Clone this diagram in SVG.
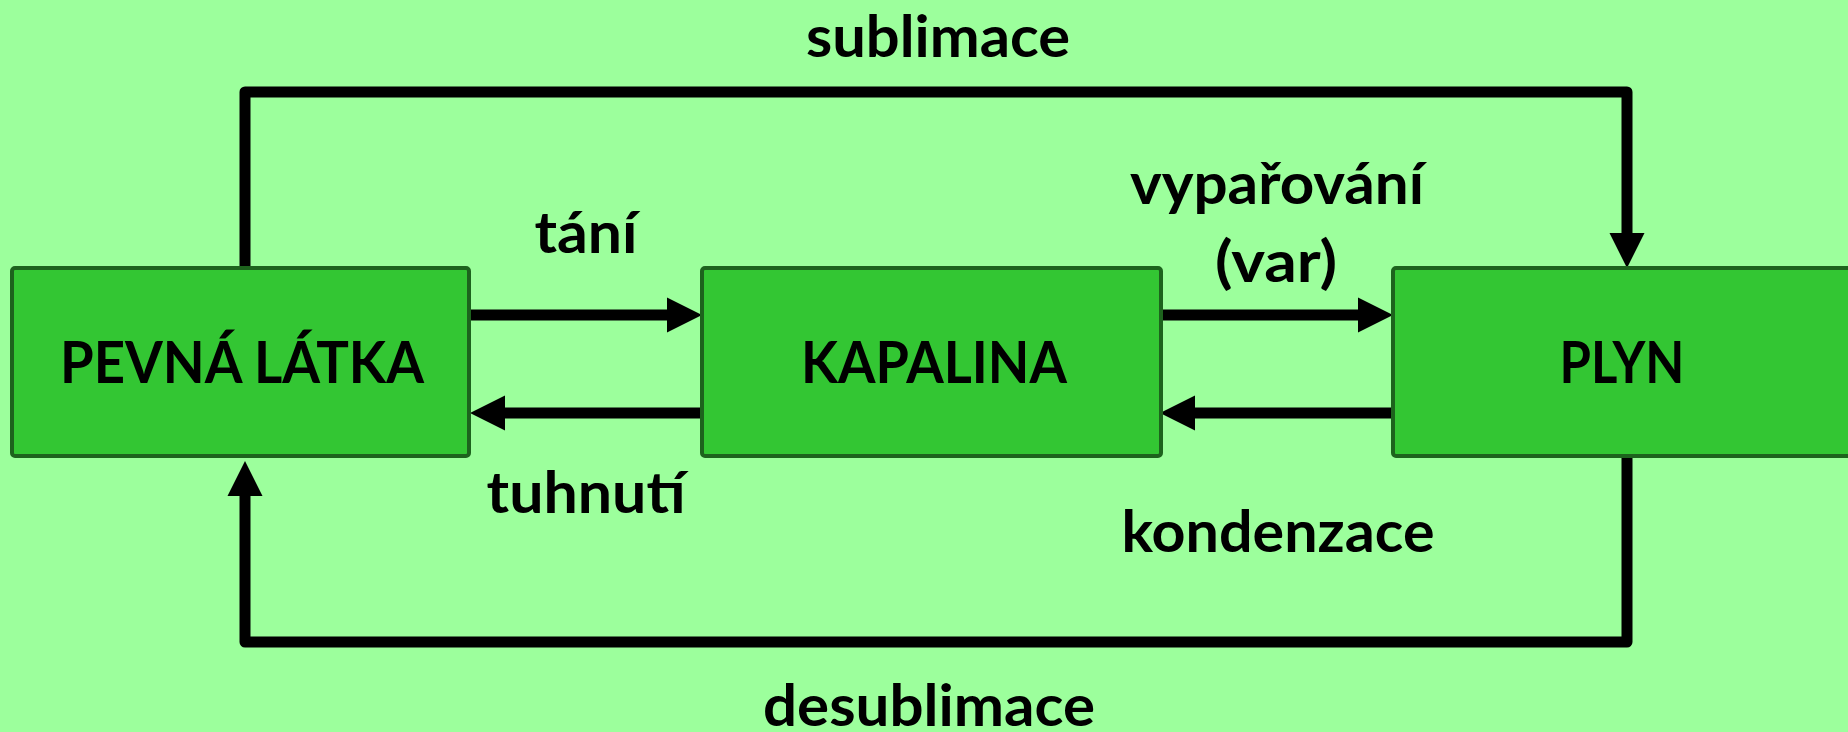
<svg xmlns="http://www.w3.org/2000/svg" width="1848" height="732" viewBox="0 0 1848 732">
  <defs>
    <marker id="head" markerUnits="userSpaceOnUse" markerWidth="36" markerHeight="36" refX="0" refY="17.5" orient="auto" overflow="visible">
      <path d="M0,0 L35,17.5 L0,35 Z" fill="#000"/>
    </marker>
    <style>
      .state rect { fill: #33c633; stroke: #1d631d; stroke-width: 4; }
      .state text { font-family: Lato, "Open Sans", sans-serif; font-weight: 700; font-size: 57px; fill: #000; text-anchor: middle; }
      .flow { fill: none; stroke: #000; stroke-width: 11; stroke-linejoin: round; }
      .arrow { marker-end: url(#head); }
      .label { font-family: Lato, "Open Sans", sans-serif; font-weight: 700; font-size: 58px; fill: #000; text-anchor: middle; }
    </style>
  </defs>

  <rect x="0" y="0" width="1848" height="732" fill="#9cff9c"/>

  <!-- connectors -->
  <g id="connectors">
    <path class="flow arrow" d="M245,267 V92 H1627 V233"/>
    <path class="flow arrow" d="M1627,450 V642 H245 V496"/>
    <path class="flow arrow" d="M469,315 H667"/>
    <path class="flow arrow" d="M702,413 H505"/>
    <path class="flow arrow" d="M1161,315 H1358"/>
    <path class="flow arrow" d="M1393,413 H1195"/>
  </g>

  <!-- states -->
  <g id="solid" class="state">
    <rect x="12" y="268" width="457" height="188" rx="3"/>
    <text x="242" y="383" textLength="364" lengthAdjust="spacingAndGlyphs">PEVNÁ LÁTKA</text>
  </g>
  <g id="liquid" class="state">
    <rect x="702" y="268" width="459" height="188" rx="3"/>
    <text x="934" y="383" textLength="266" lengthAdjust="spacingAndGlyphs">KAPALINA</text>
  </g>
  <g id="gas" class="state">
    <rect x="1393" y="268" width="470" height="188" rx="3"/>
    <text x="1622" y="383" textLength="125" lengthAdjust="spacingAndGlyphs">PLYN</text>
  </g>

  <!-- transition labels -->
  <g id="labels">
    <text class="label" x="938" y="57" textLength="264" lengthAdjust="spacingAndGlyphs">sublimace</text>
    <text class="label" x="586" y="253" textLength="103" lengthAdjust="spacingAndGlyphs">tání</text>
    <text class="label" x="1277" y="204" textLength="294" lengthAdjust="spacingAndGlyphs">vypařování</text>
    <text class="label" x="1276" y="282" textLength="122" lengthAdjust="spacingAndGlyphs">(var)</text>
    <text class="label" x="586" y="513" textLength="199" lengthAdjust="spacingAndGlyphs">tuhnutí</text>
    <text class="label" x="1278" y="552" textLength="313" lengthAdjust="spacingAndGlyphs">kondenzace</text>
    <text class="label" x="929" y="726" textLength="332" lengthAdjust="spacingAndGlyphs">desublimace</text>
  </g>
</svg>
